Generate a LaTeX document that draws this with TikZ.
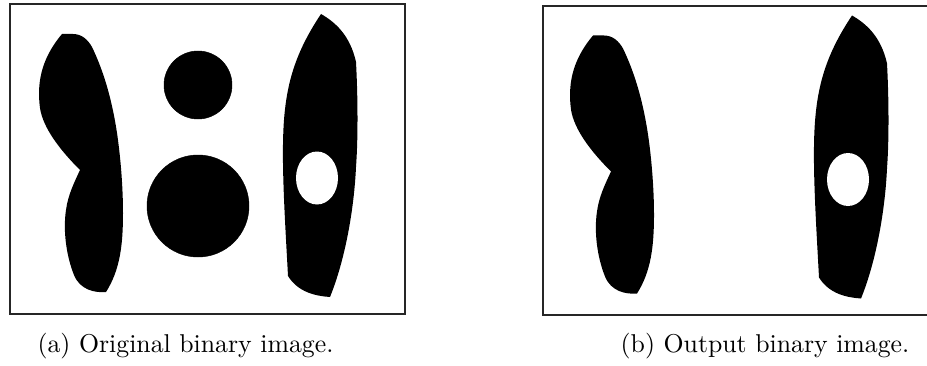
\documentclass[tikz,border=0pt]{standalone}
\usepackage{amsmath,amssymb}
\usepackage{tikz}

\tikzset{
  frame/.style={draw=black!85, line width=1.6pt},
  blob/.style={fill=black},
  hole/.style={fill=white},
  caption/.style={anchor=base, font=\fontsize{10}{12}\selectfont, scale=2.2}
}

\begin{document}
\begin{tikzpicture}[x=0.03cm,y=-0.03cm]
\useasboundingbox[fill=white] (0,0) rectangle (927,366);

\draw[frame] (10,4) rectangle (405,314);
\draw[frame] (935,6) -- (543,6) -- (543,315) -- (935,315);

\filldraw[blob] (198,85) circle (34);
\filldraw[blob] (198,206) circle (51);

\foreach \dx/\dy in {0/0,531/1.5}{
\begin{scope}[shift={(\dx,\dy)}]
\fill[blob] (62,34) -- (73,34) .. controls (82,34) and (88,40) .. (92,47)
  .. controls (104,72) and (112,100) .. (117,133)
  .. controls (121,160) and (123,190) .. (123,213)
  .. controls (123,245) and (120,270) .. (106,292)
  .. controls (95,293) and (80,290) .. (74,275)
  .. controls (66,255) and (63,230) .. (66,210)
  .. controls (68,195) and (74,183) .. (80,170)
  .. controls (60,150) and (43,128) .. (40,108)
  .. controls (37,85) and (40,60) .. (62,34) -- cycle;
\fill[blob] (321,14) .. controls (335,22) and (350,35) .. (356,62)
  .. controls (358,100) and (358,140) .. (356,167)
  .. controls (354,210) and (345,260) .. (330,297)
  .. controls (315,296) and (298,292) .. (288,276)
  .. controls (285,220) and (281,160) .. (284,120)
  .. controls (287,80) and (297,50) .. (321,14) -- cycle;
\fill[hole] (317,178) ellipse (21 and 26.5);
\end{scope}
}

\node[caption] (capa) at (185.5,352) {(a) Original binary image.};
\node[caption] (capb) at (765,352) {(b) Output binary image.};
\end{tikzpicture}
\end{document}
